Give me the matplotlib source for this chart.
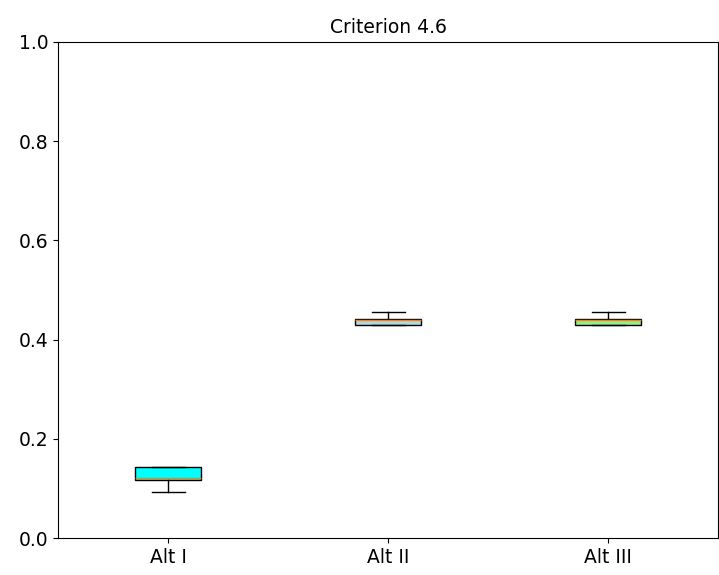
import matplotlib.pyplot as plt

labels = ["Alt I", "Alt II", "Alt III"]
whislo = [0.093, 0.4295, 0.4295]
q1 = [0.117, 0.4295, 0.4295]
med = [0.121, 0.440, 0.440]
q3 = [0.143, 0.4415, 0.4415]
whishi = [0.143, 0.456, 0.456]
colors = ["cyan", "lightblue", "lightgreen"]

stats = []
for i in range(len(labels)):
    stats.append({"label": labels[i], "whislo": whislo[i], "q1": q1[i],
                  "med": med[i], "q3": q3[i], "whishi": whishi[i], "fliers": []})

fig = plt.figure(figsize=(7.19, 5.75), dpi=100)
ax = fig.add_axes([0.0807, 0.0643, 0.918, 0.863])
bp = ax.bxp(stats, patch_artist=True, showfliers=False)
for patch, c in zip(bp["boxes"], colors):
    patch.set_facecolor(c)

ax.set_ylim(0, 1.0)
ax.set_title("Criterion 4.6", fontsize=13.5)
ax.tick_params(labelsize=13.5)

plt.savefig("out.png")
